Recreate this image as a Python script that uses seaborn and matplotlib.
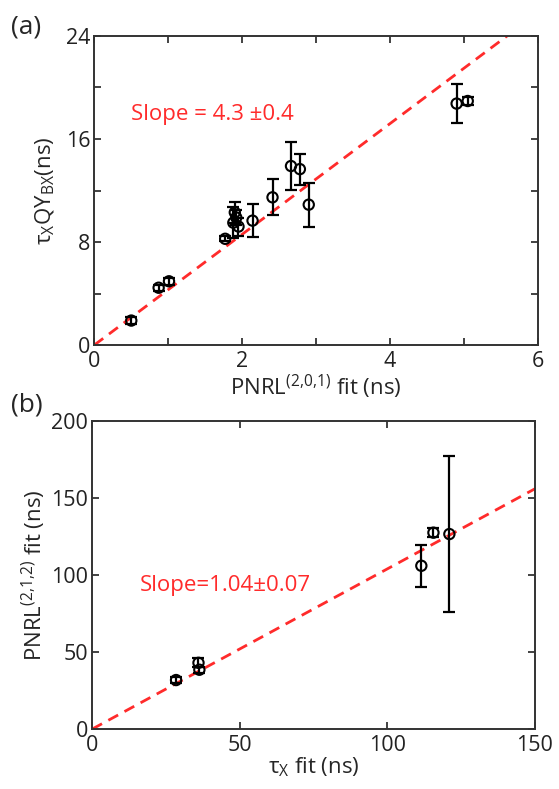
import numpy as np
import pandas as pd
import matplotlib
matplotlib.use('Agg')
from matplotlib import pyplot as plt
import seaborn as sns

# panel (a) data
a_x = [0.50, 0.87, 1.01, 1.77, 1.88, 1.90, 1.92, 1.95, 2.14, 2.41, 2.66, 2.78, 2.90, 4.90, 5.05]
a_y = [1.9, 4.45, 4.95, 8.25, 9.5, 10.3, 9.9, 9.2, 9.66, 11.47, 13.9, 13.66, 10.9, 18.75, 18.95]
a_err = [0.25, 0.25, 0.25, 0.2, 1.2, 0.8, 0.6, 0.7, 1.26, 1.4, 1.85, 1.2, 1.7, 1.5, 0.3]
a_slope = 4.3

# panel (b) data
b_x = [28.4, 36.0, 36.3, 111.5, 115.6, 121.0]
b_y = [31.8, 43.0, 38.5, 106.0, 127.5, 126.6]
b_err = [2.0, 3.0, 2.0, 13.5, 3.0, 50.5]
b_slope = 1.04

sns.set_style('ticks')
plt.rcParams['font.family'] = ['Open Sans', 'DejaVu Sans']
plt.rcParams['mathtext.default'] = 'regular'
plt.rcParams['axes.edgecolor'] = '#333333'
plt.rcParams['axes.linewidth'] = 1.4

red = '#ff2b2b'
fs_tick = 15.5
fs_lab = 16

fig = plt.figure(figsize=(5.59, 7.89), dpi=100)
ax1 = fig.add_axes([0.1687, 0.5627, 0.7937, 0.3917])
ax2 = fig.add_axes([0.165, 0.076, 0.792, 0.3904])


def draw(ax, x, y, err, slope, xmax):
    df = pd.DataFrame({'x': x, 'y': y})
    ax.errorbar(x, y, yerr=err, fmt='none', ecolor='black', elinewidth=1.6,
                capsize=4, capthick=1.6, zorder=3)
    sns.scatterplot(data=df, x='x', y='y', ax=ax, marker='o', s=55,
                    facecolor='none', edgecolor='black', linewidth=1.5, zorder=4)
    fit = pd.DataFrame({'x': [0, xmax], 'y': [0, slope * xmax]})
    sns.lineplot(data=fit, x='x', y='y', ax=ax, color=red, lw=2.0,
                 dashes=(4, 2.6), zorder=2)
    ax.tick_params(direction='in', top=True, right=True, length=5, width=1.2,
                   labelsize=fs_tick, colors='#222222')
    ax.tick_params(axis='x', pad=4)
    ax.tick_params(axis='y', pad=3)


draw(ax1, a_x, a_y, a_err, a_slope, 6)
ax1.set_xlim(0, 6)
ax1.set_ylim(0, 24)
ax1.set_xticks(range(0, 7))
ax1.set_xticklabels(['0', '', '2', '', '4', '', '6'])
ax1.set_yticks(range(0, 25, 4))
ax1.set_yticklabels(['0', '', '8', '', '16', '', '24'])
ax1.set_xlabel(r'PNRL$^{(2{,}0{,}1)}$ fit (ns)', fontsize=fs_lab, labelpad=1)
ax1.set_ylabel(r'τ$_X$QY$_{BX}$(ns)', fontsize=fs_lab, labelpad=6)
ax1.text(0.5, 17.9, 'Slope = 4.3 ±0.4', color=red, fontsize=16, va='center')

draw(ax2, b_x, b_y, b_err, b_slope, 150)
ax2.set_xlim(0, 150)
ax2.set_ylim(0, 200)
ax2.set_xticks([0, 50, 100, 150])
ax2.set_yticks([0, 50, 100, 150, 200])
ax2.set_xlabel(r'τ$_X$ fit (ns)', fontsize=fs_lab, labelpad=0)
ax2.set_ylabel(r'PNRL$^{(2{,}1{,}2)}$ fit (ns)', fontsize=fs_lab, labelpad=2)
ax2.text(16.2, 93.5, 'Slope=1.04±0.07', color=red, fontsize=16, va='center')

fig.text(0.02, 0.966, '(a)', fontsize=19, va='center')
fig.text(0.02, 0.487, '(b)', fontsize=19, va='center')

fig.savefig('out.png', dpi=100, facecolor='white')
